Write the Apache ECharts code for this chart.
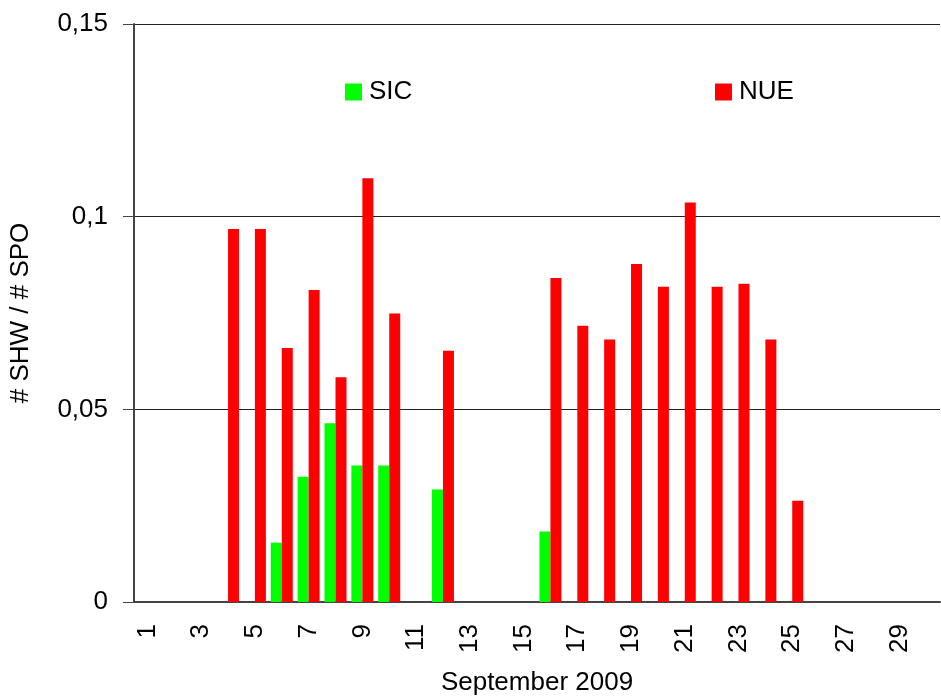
<!DOCTYPE html>
<html>
<head>
<meta charset="utf-8">
<script src="https://cdn.jsdelivr.net/npm/echarts@6/dist/echarts.min.js"></script>
<style>
  html, body { margin: 0; padding: 0; background: #fff; }
  #chart { width: 941px; height: 696px; }
</style>
</head>
<body>
<div id="chart"></div>
<script>
  // days of September 2009
  const DAYS = [];
  for (let d = 1; d <= 30; d++) DAYS.push(String(d));

  // # SHW / # SPO per day, null = no bar
  const SIC = [null, null, null, null, null, 0.0154, 0.0325, 0.0464, 0.0354, 0.0354,
    null, 0.0292, null, null, null, 0.0183, null, null, null, null,
    null, null, null, null, null, null, null, null, null, null];
  const NUE = [null, null, null, 0.0968, 0.0968, 0.0659, 0.081, 0.0583, 0.110, 0.0749,
    null, 0.0652, null, null, null, 0.0841, 0.0717, 0.0681, 0.0877, 0.0818,
    0.1037, 0.0818, 0.0826, 0.0681, 0.0263, null, null, null, null, null];

  const FONT = 'Liberation Sans, Arial, sans-serif';
  const FS = 26;

  const chart = echarts.init(document.getElementById('chart'));
  chart.setOption({
    animation: false,
    textStyle: { fontFamily: FONT },
    grid: { left: 134, right: 1, top: 24, bottom: 94, outerBoundsMode: 'none' },
    legend: [
      {
        data: ['SIC'], left: 340, top: 74, icon: 'rect',
        itemWidth: 17, itemHeight: 17, itemGap: 0,
        textStyle: { fontSize: FS, color: '#000', fontFamily: FONT, padding: [0, 0, 0, 2] }
      },
      {
        data: ['NUE'], left: 710, top: 74, icon: 'rect',
        itemWidth: 17, itemHeight: 17, itemGap: 0,
        textStyle: { fontSize: FS, color: '#000', fontFamily: FONT, padding: [0, 0, 0, 2] }
      }
    ],
    xAxis: {
      type: 'category',
      data: DAYS,
      name: 'September 2009',
      nameLocation: 'middle',
      nameGap: 68,
      nameTextStyle: { fontSize: FS, color: '#000', fontFamily: FONT },
      axisLine: { lineStyle: { color: '#444', width: 2 } },
      axisTick: { interval: 0, length: 8, lineStyle: { color: '#444', width: 2 } },
      axisLabel: {
        interval: 1, rotate: 90, margin: 22,
        fontSize: FS, color: '#000', fontFamily: FONT
      }
    },
    yAxis: {
      type: 'value',
      min: 0, max: 0.15, interval: 0.05,
      name: '# SHW / # SPO',
      nameLocation: 'middle',
      nameGap: 100,
      nameTextStyle: { fontSize: FS, color: '#000', fontFamily: FONT },
      axisLine: { show: true, lineStyle: { color: '#444', width: 2 } },
      axisTick: { show: true, length: 11, lineStyle: { color: '#444', width: 1 } },
      splitLine: { lineStyle: { color: '#222', width: 1 } },
      axisLabel: {
        margin: 26, fontSize: FS, color: '#000', fontFamily: FONT,
        formatter: v => String(+v.toFixed(2)).replace('.', ',')
      }
    },
    series: [
      {
        name: 'SIC', type: 'bar', data: SIC,
        barWidth: 11, barGap: '0%',
        itemStyle: { color: '#00ff00' }
      },
      {
        name: 'NUE', type: 'bar', data: NUE,
        barWidth: 11,
        itemStyle: { color: '#ff0000' }
      }
    ]
  });
</script>
</body>
</html>
